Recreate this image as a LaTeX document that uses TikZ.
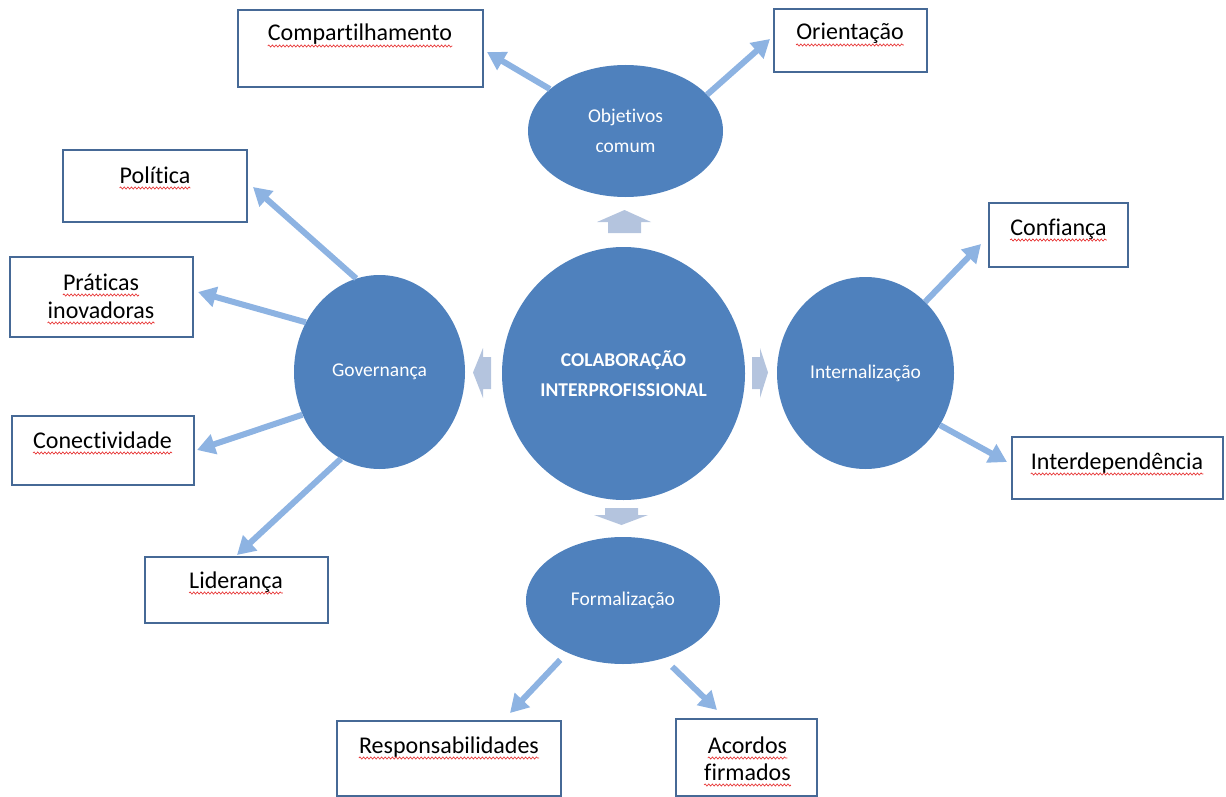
\documentclass[tikz,border=0pt]{standalone}
\usepackage{fontspec}
\newfontfamily\calibri[Ligatures={NoCommon}]{Carlito}
\usetikzlibrary{arrows.meta,shapes.geometric,decorations.pathmorphing}
\definecolor{ellblue}{RGB}{79,129,189}
\definecolor{connblue}{RGB}{141,179,226}
\definecolor{blkblue}{RGB}{180,196,222}
\definecolor{boxline}{RGB}{70,105,150}
\definecolor{squigred}{RGB}{230,40,40}
\newcommand\mywavy[1]{\draw[squiggle] ([yshift=-5pt]#1.base west) -- ([yshift=-5pt]#1.base east);}
\begin{document}
\begin{tikzpicture}[x=1pt,y=-1pt,
 ell/.style={ellipse, fill=ellblue, inner sep=0pt, text=white, font=\calibri\fontsize{19.5}{30}\selectfont, align=center},
 box/.style={rectangle, draw=boxline, line width=1.4pt, inner sep=0pt, fill=white},
 lbl/.style={inner sep=0pt, anchor=base, font=\calibri\fontsize{24}{29}\selectfont, text=black},
 conn/.style={draw=connblue, line width=6pt, -{Triangle[width=20pt,length=18pt]}},
 blk/.style={fill=blkblue},
 squiggle/.style={draw=squigred, line width=0.6pt, decorate, decoration={snake, amplitude=1.1pt, segment length=3.6pt}}
]
\useasboundingbox (0,0) rectangle (1226,797);

% ellipses
\node[ell, minimum width=243pt, minimum height=253pt, font=\calibri\bfseries\fontsize{19.5}{30}\selectfont] (ctr) at (623.5,373.5) {COLABORAÇÃO\\INTERPROFISSIONAL};
\node[ell, minimum width=195pt, minimum height=132pt] (obj) at (625.5,131) {Objetivos\\comum};
\node[ell, minimum width=171pt, minimum height=194pt] (gov) at (379.5,372) {Governança};
\node[ell, minimum width=177pt, minimum height=192pt] (int) at (865.5,373) {Internalização};
\node[ell, minimum width=194pt, minimum height=127pt] (form) at (623,600.5) {Formalização};

% block arrows
\fill[blk] (608,233) -- (608,222) -- (597,222) -- (624.5,210) -- (651,222) -- (641,222) -- (641,233) -- cycle;
\fill[blk] (605,508) -- (638,508) -- (638,515) -- (648,515) -- (621.5,525) -- (594,515) -- (605,515) -- cycle;
\fill[blk] (491,357) -- (483,357) -- (483,348) -- (473,372.5) -- (483,398) -- (483,389) -- (491,389) -- cycle;
\fill[blk] (752,357) -- (760,357) -- (760,348) -- (768,372.5) -- (760,398) -- (760,389) -- (752,389) -- cycle;

% boxes
\node[box, minimum width=245pt, minimum height=77pt] (comp) at (360.5,48.5) {};
\node[box, minimum width=153pt, minimum height=63pt] (ori) at (850.5,40.5) {};
\node[box, minimum width=184pt, minimum height=72pt] (pol) at (155,186) {};
\node[box, minimum width=183pt, minimum height=80pt] (prat) at (101.5,297) {};
\node[box, minimum width=182pt, minimum height=69pt] (con) at (103,450.5) {};
\node[box, minimum width=183pt, minimum height=66pt] (lid) at (236.5,590) {};
\node[box, minimum width=139pt, minimum height=64pt] (conf) at (1058.5,235) {};
\node[box, minimum width=211pt, minimum height=62pt] (inter) at (1117.5,468) {};
\node[box, minimum width=224pt, minimum height=75pt] (resp) at (449,758.5) {};
\node[box, minimum width=141pt, minimum height=77pt] (aco) at (746.5,757.5) {};

% box labels
\node[lbl] (tcomp) at (360,41) {Compartilhamento};
\node[lbl] (tori) at (850,40) {Orientação};
\node[lbl] (tpol) at (155,183) {Política};
\node[lbl] (tprat1) at (101,290) {Práticas};
\node[lbl] (tprat2) at (101,318) {inovadoras};
\node[lbl] (tcon) at (102.5,448) {Conectividade};
\node[lbl] (tlid) at (236,588) {Liderança};
\node[lbl] (tconf) at (1058.5,235) {Confiança};
\node[lbl] (tinter) at (1117,469) {Interdependência};
\node[lbl] (tresp) at (449,753) {Responsabilidades};
\node[lbl] (taco1) at (747.5,753) {Acordos};
\node[lbl] (taco2) at (747.5,780) {firmados};

\foreach \n in {tcomp,tori,tpol,tprat1,tprat2,tcon,tlid,tconf,tinter,tresp,taco1,taco2}{\mywavy{\n}}

% arrow tips
\coordinate (kcomp) at (487,52);
\coordinate (kori) at (770,39);
\coordinate (kpol) at (253,187);
\coordinate (kprat) at (198,292);
\coordinate (kcon) at (197,450);
\coordinate (klid) at (237,555);
\coordinate (kconf) at (981,244);
\coordinate (kinter) at (1007,462);
\coordinate (kresp) at (510,713);
\coordinate (kaco) at (717,710);

% connectors
\draw[conn] (obj.151) -- (kcomp);
\draw[conn] (obj.24) -- (kori);
\draw[conn] (gov.104) -- (kpol);
\draw[conn] (gov.146) -- (kprat);
\draw[conn] (gov.209) -- (kcon);
\draw[conn] (gov.246) -- (klid);
\draw[conn] (int.50) -- (kconf);
\draw[conn] (int.325) -- (kinter);
\draw[conn, shorten <=10pt] (form.223) -- (kresp);
\draw[conn, shorten <=12pt] (form.305) -- (kaco);
\end{tikzpicture}
\end{document}
